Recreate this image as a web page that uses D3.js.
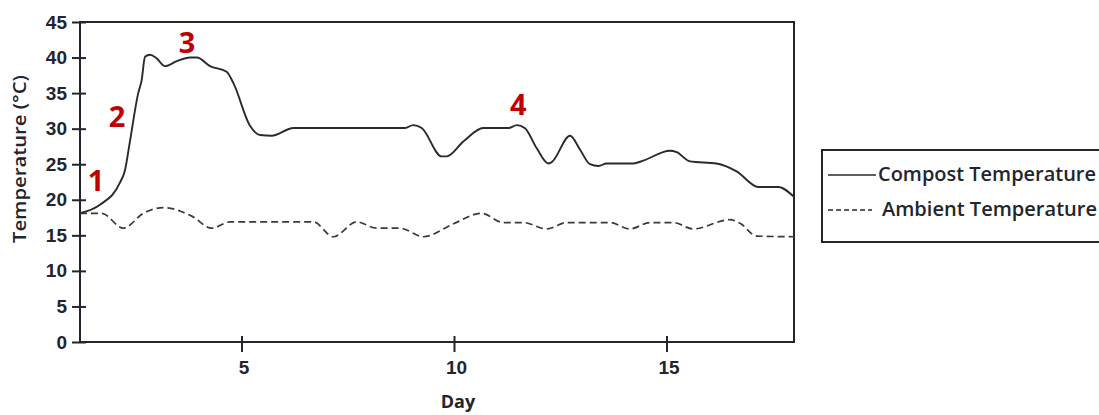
<!DOCTYPE html>
<html>
<head>
<meta charset="utf-8">
<script src="https://cdn.jsdelivr.net/npm/d3@7"></script>
<style>
  html, body { margin: 0; padding: 0; background: #fff; }
  svg { display: block; font-family: "Open Sans", "Noto Sans", sans-serif; }
</style>
</head>
<body>
<svg id="chart" width="1099" height="415"></svg>
<script>
// Compost pile temperature readings over the composting period
const compostDays  = [1.2, 1.67, 2.14, 2.26, 2.38, 2.57, 2.65, 2.73, 2.85, 3.0, 3.2, 3.48, 3.79, 3.95, 4.26, 4.65, 4.81, 5.2, 5.44, 5.71, 6.22, 8.85, 9.04, 9.24, 9.71, 9.83, 10.22, 10.69, 11.28, 11.48, 11.67, 11.95, 12.22, 12.3, 12.73, 12.97, 13.2, 13.4, 13.59, 14.22, 14.45, 15.08, 15.24, 15.55, 16.18, 16.65, 17.16, 17.63, 18.0];
const compostTemps = [18.1, 19.3, 22.4, 24.2, 28.4, 35.0, 36.8, 40.1, 40.4, 39.9, 38.8, 39.5, 40.0, 40.0, 38.8, 38.0, 36.4, 30.4, 29.1, 29.0, 30.1, 30.1, 30.5, 30.1, 26.1, 26.1, 28.2, 30.1, 30.1, 30.5, 30.05, 27.2, 25.1, 25.3, 29.0, 27.0, 25.0, 24.75, 25.1, 25.1, 25.5, 26.9, 26.7, 25.4, 25.1, 24.0, 21.8, 21.8, 20.4];

// Surrounding air temperature
const ambientDays  = [1.2, 1.71, 2.22, 2.69, 3.16, 3.83, 4.3, 4.73, 6.69, 7.16, 7.71, 8.18, 8.73, 9.28, 9.98, 10.65, 11.16, 11.63, 12.18, 12.65, 13.67, 14.14, 14.61, 15.16, 15.63, 16.49, 16.73, 17.12, 18.0];
const ambientTemps = [18.1, 18.1, 16.0, 18.1, 18.9, 17.7, 16.0, 16.9, 16.9, 14.8, 16.9, 16.0, 16.0, 14.8, 16.6, 18.1, 16.8, 16.8, 15.9, 16.8, 16.8, 15.9, 16.8, 16.8, 15.9, 17.2, 16.7, 14.9, 14.8];

const xTicks = [5, 10, 15];
const yTicks = [0, 5, 10, 15, 20, 25, 30, 35, 40, 45];

// Phase markers
const phaseLabels = ["1", "2", "3", "4"];
const phaseDays   = [1.58, 2.07, 3.72, 11.51];
const phaseTemps  = [22.8, 31.9, 42.2, 33.5];

const seriesNames = ["Compost Temperature", "Ambient Temperature"];

const svg = d3.select("#chart");
const ink = "#22252e";
const plot = { left: 80, right: 794, top: 22, bottom: 342 };

const x = d3.scaleLinear().domain([1.2, 18]).range([plot.left, plot.right]);
const y = d3.scaleLinear().domain([0, 45]).range([plot.bottom, plot.top]);

// Frame
svg.append("rect")
  .attr("x", plot.left).attr("y", plot.top)
  .attr("width", plot.right - plot.left).attr("height", plot.bottom - plot.top)
  .attr("fill", "none").attr("stroke", ink).attr("stroke-width", 2);

// Y axis
const yAxis = svg.append("g")
  .attr("transform", `translate(${plot.left},0)`)
  .call(d3.axisLeft(y).tickValues(yTicks).tickSize(8).tickPadding(6));
yAxis.select(".domain").remove();
yAxis.selectAll(".tick line").attr("x2", 6).attr("x1", -8).attr("stroke", ink).attr("stroke-width", 2);
yAxis.selectAll(".tick text")
  .attr("x", -13)
  .attr("fill", ink).style("font-size", "19px").style("font-weight", 600);

// X axis
const xAxis = svg.append("g")
  .attr("transform", `translate(0,${plot.bottom})`)
  .call(d3.axisBottom(x).tickValues(xTicks).tickSize(10).tickPadding(8));
xAxis.select(".domain").remove();
xAxis.selectAll(".tick line").attr("y1", -6).attr("y2", 10).attr("stroke", ink).attr("stroke-width", 2);
xAxis.selectAll(".tick text")
  .attr("y", 18.5).attr("dx", 2)
  .attr("fill", ink).style("font-size", "19px").style("font-weight", 600);

// Axis titles
svg.append("text")
  .attr("x", 458).attr("y", 408)
  .attr("text-anchor", "middle")
  .attr("fill", ink).style("font-size", "18px").style("font-weight", 700)
  .text("Day");

svg.append("text")
  .attr("transform", `translate(26,159) rotate(-90)`)
  .attr("text-anchor", "middle")
  .attr("textLength", 168).attr("lengthAdjust", "spacingAndGlyphs")
  .attr("fill", ink).style("font-size", "18px").style("font-weight", 600)
  .text("Temperature (°C)");

// Lines
const line = d3.line()
  .x(d => x(d[0])).y(d => y(d[1]))
  .curve(d3.curveMonotoneX);

const compost = compostDays.map((d, i) => [d, compostTemps[i]]);
const ambient = ambientDays.map((d, i) => [d, ambientTemps[i]]);

svg.append("path")
  .datum(ambient)
  .attr("d", line)
  .attr("fill", "none").attr("stroke", "#3a3a3a").attr("stroke-width", 1.7)
  .attr("stroke-dasharray", "7,4");

svg.append("path")
  .datum(compost)
  .attr("d", line)
  .attr("fill", "none").attr("stroke", "#2a2a2a").attr("stroke-width", 1.9);

// Phase numbers
svg.append("g").selectAll("text")
  .data(phaseLabels)
  .join("text")
  .attr("x", (d, i) => x(phaseDays[i]))
  .attr("y", (d, i) => y(phaseTemps[i]))
  .attr("text-anchor", "middle").attr("dominant-baseline", "central")
  .attr("fill", "#c00000").style("font-size", "29px").style("font-weight", 700)
  .text(d => d);

// Legend
const legend = svg.append("g");
legend.append("rect")
  .attr("x", 822).attr("y", 150).attr("width", 300).attr("height", 92)
  .attr("fill", "#fff").attr("stroke", ink).attr("stroke-width", 2);

legend.append("line")
  .attr("x1", 828).attr("x2", 876).attr("y1", 175).attr("y2", 175)
  .attr("stroke", "#2a2a2a").attr("stroke-width", 1.3);
legend.append("line")
  .attr("x1", 828).attr("x2", 872).attr("y1", 210).attr("y2", 210)
  .attr("stroke", "#2a2a2a").attr("stroke-width", 1.3)
  .attr("stroke-dasharray", "5,3");

legend.selectAll("text.lbl")
  .data(seriesNames)
  .join("text")
  .attr("class", "lbl")
  .attr("x", (d, i) => i === 0 ? 878 : 882)
  .attr("y", (d, i) => i === 0 ? 181 : 216)
  .attr("textLength", (d, i) => i === 0 ? 218 : 215)
  .attr("lengthAdjust", "spacingAndGlyphs")
  .attr("fill", ink).style("font-size", "19px").style("font-weight", 600)
  .text(d => d);
</script>
</body>
</html>
